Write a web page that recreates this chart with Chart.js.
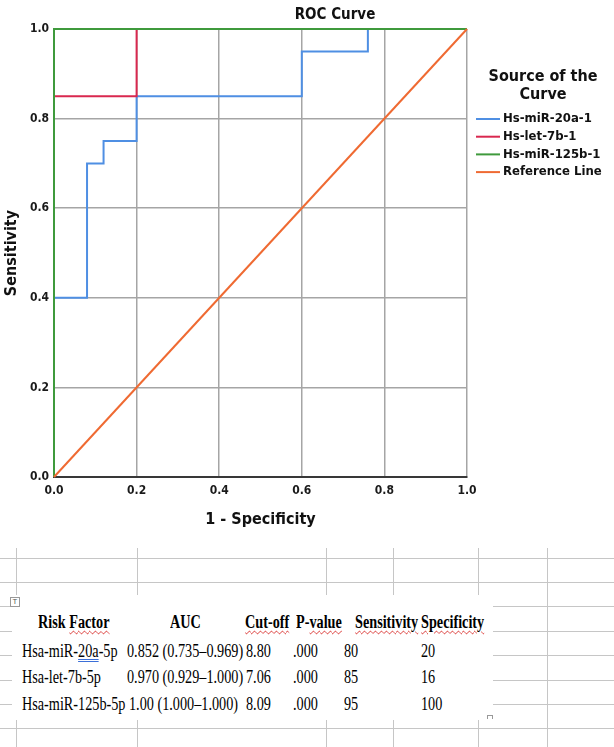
<!DOCTYPE html>
<html>
<head>
<meta charset="utf-8">
<title>ROC Curve</title>
<script src="https://cdn.jsdelivr.net/npm/chart.js@4.4.0/dist/chart.umd.min.js"></script>
<style>
    body { margin: 0; width: 614px; height: 747px; overflow: hidden; background: #fff; position: relative; font-family: "Liberation Serif", "Times New Roman", serif; }
    .h { position: absolute; left: 0; width: 614px; height: 0; border-top: 1.5px solid #c6c6c6; }
    .v { position: absolute; width: 0; border-left: 1.5px solid #c6c6c6; }
    #chartBox { position: absolute; left: 0; top: 0; width: 614px; height: 548px; background: #fff; }
    #doc { position: absolute; left: 12px; top: 595px; width: 481px; height: 125px; background: #fff; }
    .cell { position: absolute; white-space: nowrap; font-size: 18px; line-height: 17px; color: #000; transform: scaleX(0.79); transform-origin: 0 0; }
    .head { font-weight: bold; }
    .wavy { text-decoration: underline wavy #d8302c; text-decoration-thickness: 1px; text-underline-offset: 2px; }
    .blue { text-decoration: underline double #3b6fd8; text-decoration-thickness: 1px; text-underline-offset: 2px; }
    #anchor { position: absolute; left: 10px; top: 597px; width: 8px; height: 8px; border: 1px solid #999; font: 7px "DejaVu Sans", sans-serif; line-height: 8px; text-align: center; color: #555; background: #fff; }
    #resize { position: absolute; left: 487px; top: 715px; width: 4px; height: 3px; border-top: 1px solid #999; border-left: 1px solid #999; border-right: 1px solid #999; }
</style>
</head>
<body>
<div id="sheet"></div>
<div id="chartBox"><canvas id="rocChart"></canvas></div>
<div id="doc"></div>
<div id="anchor">T</div>
<div id="resize"></div>

<script>
// 축 눈금
const axisTicks = [0, 0.2, 0.4, 0.6, 0.8, 1.0];

// ROC 곡선 꼭짓점 (1 - 특이도, 민감도)
const mir20aX = [0, 0, 0.08, 0.08, 0.12, 0.12, 0.2, 0.2, 0.6, 0.6, 0.76, 0.76, 1.0];
const mir20aY = [0, 0.4, 0.4, 0.7, 0.7, 0.75, 0.75, 0.85, 0.85, 0.95, 0.95, 1.0, 1.0];
const let7bX = [0, 0, 0.2, 0.2, 1.0];
const let7bY = [0, 0.85, 0.85, 1.0, 1.0];
const mir125bX = [0, 0, 1.0];
const mir125bY = [0, 1.0, 1.0];
const refLineX = [0, 1.0];
const refLineY = [0, 1.0];

const seriesLabels = ['Hs-miR-20a-1', 'Hs-let-7b-1', 'Hs-miR-125b-1', 'Reference Line'];
const seriesColors = ['#4f8fe3', '#d9284f', '#3f9a3c', '#ef6a32'];

const chartTitle = 'ROC Curve';
const legendTitle = ['Source of the', 'Curve'];
const xTitle = '1 - Specificity';
const yTitle = 'Sensitivity';

// 아래 표
const tableHeaders = ['Risk Factor', 'AUC', 'Cut-off', 'P-value', 'Sensitivity', 'Specificity'];
const riskFactors = ['Hsa-miR-20a-5p', 'Hsa-let-7b-5p', 'Hsa-miR-125b-5p'];
const aucValues = ['0.852 (0.735\u20130.969)', '0.970 (0.929\u20131.000)', '1.00 (1.000\u20131.000)'];
const cutOffs = ['8.80', '7.06', '8.09'];
const pValues = ['.000', '.000', '.000'];
const sensitivityPct = ['80', '85', '95'];
const specificityPct = ['20', '16', '100'];

const fam = '"DejaVu Sans Condensed", "DejaVu Sans", sans-serif';

function toPoints(xs, ys) {
    return xs.map((x, i) => ({ x: x, y: ys[i] }));
}

// 스프레드시트 격자 배경
function drawSheet() {
    const sheet = document.getElementById('sheet');
    [558, 582, 606, 631, 655, 680, 704, 728].forEach(y => {
        const d = document.createElement('div');
        d.className = 'h';
        d.style.top = y + 'px';
        sheet.appendChild(d);
    });
    [16, 137, 326, 393, 478, 547].forEach(x => {
        const d = document.createElement('div');
        d.className = 'v';
        d.style.left = x + 'px';
        d.style.top = '548px';
        d.style.height = '199px';
        sheet.appendChild(d);
    });
}

function addCell(text, left, top, cls) {
    const s = document.createElement('span');
    s.className = 'cell ' + (cls || '');
    s.style.left = left + 'px';
    s.style.top = top + 'px';
    s.innerHTML = text;
    document.body.appendChild(s);
}

function drawTable() {
    const headLeft = [38, 170, 245, 296, 355, 421];
    const wavyWords = ['Factor', 'Cut-off', 'value', 'Sensitivity', 'Specificity'];
    tableHeaders.forEach((h, i) => {
        let html = h;
        wavyWords.forEach(w => {
            if (html.indexOf(w) >= 0) html = html.replace(w, '<span class="wavy">' + w + '</span>');
        });
        addCell(html, headLeft[i], 614, 'head');
    });

    const rowTop = [643, 669, 696];
    riskFactors.forEach((name, r) => {
        const label = r === 0 ? name.replace('20a', '<span class="blue">20a</span>') : name;
        const top = rowTop[r];
        addCell(label, 22, top);
        addCell(aucValues[r], r === 2 ? 129 : 127, top);
        addCell(cutOffs[r], 246, top);
        addCell(pValues[r], 293, top);
        addCell(sensitivityPct[r], 344, top);
        addCell(specificityPct[r], 421, top);
    });
}

// 제목과 범례 그리기
const decorPlugin = {
    id: 'decor',
    afterDraw(chart) {
        const ctx = chart.ctx;
        ctx.save();
        ctx.fillStyle = '#111';
        ctx.textAlign = 'center';
        ctx.textBaseline = 'middle';
        ctx.font = 'bold 15px ' + fam;
        ctx.fillText(chartTitle, 335, 15);

        ctx.font = 'bold 16px ' + fam;
        legendTitle.forEach((t, i) => ctx.fillText(t, 543, 77 + i * 18));

        ctx.font = 'bold 13px ' + fam;
        ctx.textAlign = 'left';
        chart.data.datasets.forEach((ds, i) => {
            const y = 119 + i * 17.7;
            ctx.strokeStyle = ds.borderColor;
            ctx.lineWidth = 2;
            ctx.beginPath();
            ctx.moveTo(476, y);
            ctx.lineTo(500, y);
            ctx.stroke();
            ctx.fillText(ds.label, 503, y);
        });
        ctx.restore();
    }
};

function axisOptions(titleText, isX) {
    return {
        type: 'linear',
        min: 0,
        max: 1,
        afterBuildTicks: s => { s.ticks = axisTicks.map(v => ({ value: v })); },
        afterFit: s => {
            if (isX) s.height = 71;
            else s.width = 54;
        },
        grid: { color: '#a5a5a5', lineWidth: 1.5, drawTicks: false },
        border: { color: '#383838', width: 2 },
        ticks: {
            padding: isX ? 7 : 5,
            color: '#1a1a1a',
            autoSkip: false,
            maxRotation: 0,
            font: { family: fam, size: 12, weight: 'bold' },
            callback: v => v.toFixed(1)
        },
        title: {
            display: true,
            text: titleText,
            color: '#111',
            font: { family: fam, size: 16, weight: 'bold' },
            padding: isX ? { top: 4, bottom: 19 } : { top: 2, bottom: 0 }
        }
    };
}

function createRocChart() {
    const ctx = document.getElementById('rocChart').getContext('2d');
    const seriesPoints = [
        toPoints(mir20aX, mir20aY),
        toPoints(let7bX, let7bY),
        toPoints(mir125bX, mir125bY),
        toPoints(refLineX, refLineY)
    ];
    const drawOrder = [3, 2, 1, 0];

    new Chart(ctx, {
        type: 'scatter',
        data: {
            datasets: seriesPoints.map((pts, i) => ({
                label: seriesLabels[i],
                data: pts,
                showLine: true,
                borderColor: seriesColors[i],
                backgroundColor: seriesColors[i],
                borderWidth: 2,
                pointRadius: 0,
                tension: 0,
                clip: false,
                order: drawOrder[i]
            }))
        },
        options: {
            responsive: true,
            maintainAspectRatio: false,
            animation: false,
            layout: { padding: { left: 0, right: 147, top: 29, bottom: 0 } },
            plugins: {
                legend: { display: false },
                tooltip: { enabled: false },
                title: { display: false }
            },
            scales: {
                x: axisOptions(xTitle, true),
                y: axisOptions(yTitle, false)
            }
        },
        plugins: [decorPlugin]
    });
}

drawSheet();
drawTable();
createRocChart();
</script>
</body>
</html>
